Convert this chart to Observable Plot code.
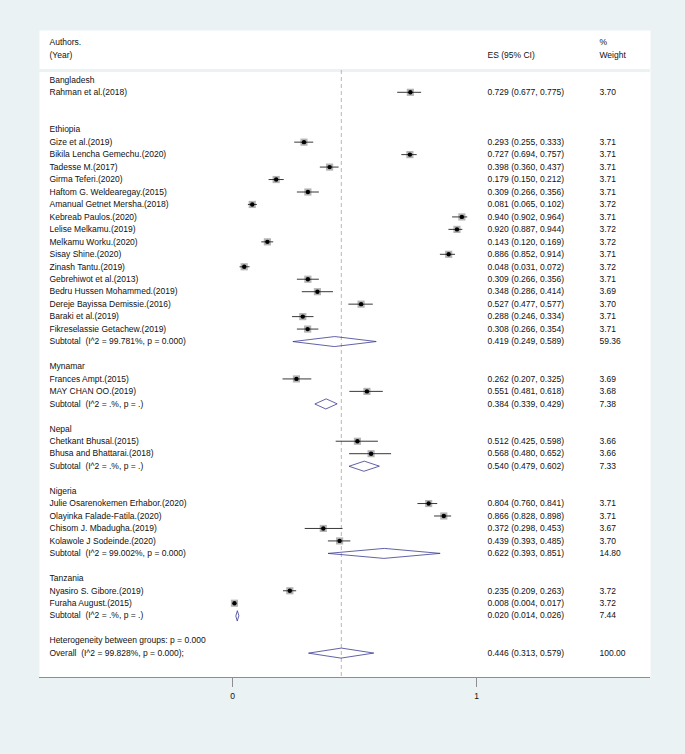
<!DOCTYPE html>
<html><head><meta charset="utf-8">
<script src="https://cdn.jsdelivr.net/npm/d3@7"></script>
<script src="https://cdn.jsdelivr.net/npm/@observablehq/plot@0.6"></script>
<style>
html,body{margin:0;padding:0;background:#eaf2f3;}
#chart svg{display:block;}
</style>
</head><body><div id="chart"></div>
<script>
// ---- data ----
const groups = ["Bangladesh","Ethiopia","Mynamar","Nepal","Nigeria","Tanzania"];

const studyNames = [
  "Rahman et al.(2018)",
  "Gize et al.(2019)",
  "Bikila Lencha Gemechu.(2020)",
  "Tadesse M.(2017)",
  "Girma Teferi.(2020)",
  "Haftom G. Weldearegay.(2015)",
  "Amanual Getnet Mersha.(2018)",
  "Kebreab Paulos.(2020)",
  "Lelise Melkamu.(2019)",
  "Melkamu Worku.(2020)",
  "Sisay Shine.(2020)",
  "Zinash Tantu.(2019)",
  "Gebrehiwot et al.(2013)",
  "Bedru Hussen Mohammed.(2019)",
  "Dereje Bayissa Demissie.(2016)",
  "Baraki et al.(2019)",
  "Fikreselassie Getachew.(2019)",
  "Frances Ampt.(2015)",
  "MAY CHAN OO.(2019)",
  "Chetkant Bhusal.(2015)",
  "Bhusa and Bhattarai.(2018)",
  "Julie Osarenokemen Erhabor.(2020)",
  "Olayinka Falade-Fatila.(2020)",
  "Chisom J. Mbadugha.(2019)",
  "Kolawole J Sodeinde.(2020)",
  "Nyasiro S. Gibore.(2019)",
  "Furaha August.(2015)"
];
const studyGroup = [0, 1,1,1,1,1,1,1,1,1,1,1,1,1,1,1,1, 2,2, 3,3, 4,4,4,4, 5,5];
const studyES = [0.729, 0.293,0.727,0.398,0.179,0.309,0.081,0.940,0.920,0.143,0.886,0.048,0.309,0.348,0.527,0.288,0.308, 0.262,0.551, 0.512,0.568, 0.804,0.866,0.372,0.439, 0.235,0.008];
const studyLo = [0.677, 0.255,0.694,0.360,0.150,0.266,0.065,0.902,0.887,0.120,0.852,0.031,0.266,0.286,0.477,0.246,0.266, 0.207,0.481, 0.425,0.480, 0.760,0.828,0.298,0.393, 0.209,0.004];
const studyHi = [0.775, 0.333,0.757,0.437,0.212,0.356,0.102,0.964,0.944,0.169,0.914,0.072,0.356,0.414,0.577,0.334,0.354, 0.325,0.618, 0.598,0.652, 0.841,0.898,0.453,0.485, 0.263,0.017];
const studyWeight = [3.70, 3.71,3.71,3.71,3.71,3.71,3.72,3.71,3.72,3.72,3.71,3.72,3.71,3.69,3.70,3.71,3.71, 3.69,3.68, 3.66,3.66, 3.71,3.71,3.67,3.70, 3.72,3.72];

const subtotalLabels = [null,
  "Subtotal\u00a0 (I^2 = 99.781%, p = 0.000)",
  "Subtotal\u00a0 (I^2 = .%, p = .)",
  "Subtotal\u00a0 (I^2 = .%, p = .)",
  "Subtotal\u00a0 (I^2 = 99.002%, p = 0.000)",
  "Subtotal\u00a0 (I^2 = .%, p = .)"];
const subtotalES = [null, 0.419, 0.384, 0.540, 0.622, 0.020];
const subtotalLo = [null, 0.249, 0.339, 0.479, 0.393, 0.014];
const subtotalHi = [null, 0.589, 0.429, 0.602, 0.851, 0.026];
const subtotalWeight = [null, 59.36, 7.38, 7.33, 14.80, 7.44];

const heterogeneityLabel = "Heterogeneity between groups: p = 0.000";
const overallLabel = "Overall\u00a0 (I^2 = 99.828%, p = 0.000);";
const overallES = 0.446, overallLo = 0.313, overallHi = 0.579, overallWeight = 100.00;

const headerLeft = ["Authors.", "(Year)"];
const headerES = ["", "ES (95% CI)"];
const headerWeight = ["%", "Weight"];
const xTicks = [0, 1];

// ---- table rows ----
const rows = [];
let r = 0;
groups.forEach((g, gi) => {
  rows.push({row: r++, label: g, kind: "group"});
  studyNames.forEach((n, i) => {
    if (studyGroup[i] === gi) rows.push({row: r++, label: n, es: studyES[i], lo: studyLo[i], hi: studyHi[i], weight: studyWeight[i], kind: "study"});
  });
  if (subtotalES[gi] != null) rows.push({row: r, label: subtotalLabels[gi], es: subtotalES[gi], lo: subtotalLo[gi], hi: subtotalHi[gi], weight: subtotalWeight[gi], kind: "pooled"});
  r++; // subtotal line
  r++; // blank line
});
rows.push({row: r++, label: heterogeneityLabel, kind: "text"});
rows.push({row: r++, label: overallLabel, es: overallES, lo: overallLo, hi: overallHi, weight: overallWeight, kind: "pooled"});

const studies = rows.filter(d => d.kind === "study");
const pooled = rows.filter(d => d.kind === "pooled");
const withES = rows.filter(d => d.es != null);
const dh = 0.4; // diamond half height (rows)
const diamondPts = pooled.flatMap((d, k) => [
  {id: k, x: d.lo, y: d.row},
  {id: k, x: d.es, y: d.row - dh},
  {id: k, x: d.hi, y: d.row},
  {id: k, x: d.es, y: d.row + dh}
]);
const headerRows = headerLeft.map((t, i) => ({row: i - 3, left: t, es: headerES[i], w: headerWeight[i]}));

const yTop = -3.96, yBottom = 47.96, sepRow = -0.75;
const f3 = v => v.toFixed(3);

const chart = Plot.plot({
  width: 685,
  height: 754,
  marginLeft: 39,
  marginRight: 35,
  marginTop: 30,
  marginBottom: 77,
  style: {background: "#eaf2f3", fontFamily: "'Liberation Sans', Arial, sans-serif", fontSize: "8.5px", color: "#111"},
  x: {domain: [0, 1], range: [232, 476]},
  y: {domain: [yTop, yBottom], reverse: true, axis: null},
  r: {domain: [0, 4], range: [0, 4.2]},
  marks: [
    Plot.frame({fill: "white", stroke: null}),
    Plot.ruleY([sepRow], {stroke: "#eaf2f3", strokeWidth: 3}),
    Plot.ruleX([overallES], {y1: sepRow, y2: yBottom, stroke: "#bc9c9a", strokeWidth: 0.8, strokeDasharray: "4,3"}),
    Plot.ruleY([yBottom], {stroke: "#8e8e8e", strokeWidth: 1}),
    Plot.axisX({ticks: xTicks, tickSize: 10, tickPadding: 5, stroke: "#8e8e8e", fill: "#111", fontSize: 8.5, label: null, tickFormat: d => String(d)}),
    Plot.dot(studies, {x: "es", y: "row", r: "weight", symbol: "square", fill: "#b4b4b4"}),
    Plot.ruleY(studies, {y: "row", x1: "lo", x2: "hi", stroke: "#222", strokeWidth: 0.9}),
    Plot.dot(studies, {x: "es", y: "row", r: 2.2, fill: "#000"}),
    Plot.line(diamondPts, {x: "x", y: "y", z: "id", curve: "linear-closed", stroke: "#3a3a92", strokeWidth: 0.8}),
    Plot.text(rows, {y: "row", text: "label", frameAnchor: "left", dx: 10, textAnchor: "start", fill: "#111", fontSize: 8.5}),
    Plot.text(withES, {y: "row", text: d => `${f3(d.es)} (${f3(d.lo)}, ${f3(d.hi)})`, frameAnchor: "right", dx: -163, textAnchor: "start", fill: "#111", fontSize: 8.5}),
    Plot.text(withES, {y: "row", text: d => d.weight.toFixed(2), frameAnchor: "right", dx: -51, textAnchor: "start", fill: "#111", fontSize: 8.5}),
    Plot.text(headerRows, {y: "row", text: "left", frameAnchor: "left", dx: 10, textAnchor: "start", fill: "#111", fontSize: 8.5}),
    Plot.text(headerRows, {y: "row", text: "es", frameAnchor: "right", dx: -163, textAnchor: "start", fill: "#111", fontSize: 8.5}),
    Plot.text(headerRows, {y: "row", text: "w", frameAnchor: "right", dx: -51, textAnchor: "start", fill: "#111", fontSize: 8.5})
  ]
});
document.getElementById("chart").append(chart);
</script>
</body></html>
